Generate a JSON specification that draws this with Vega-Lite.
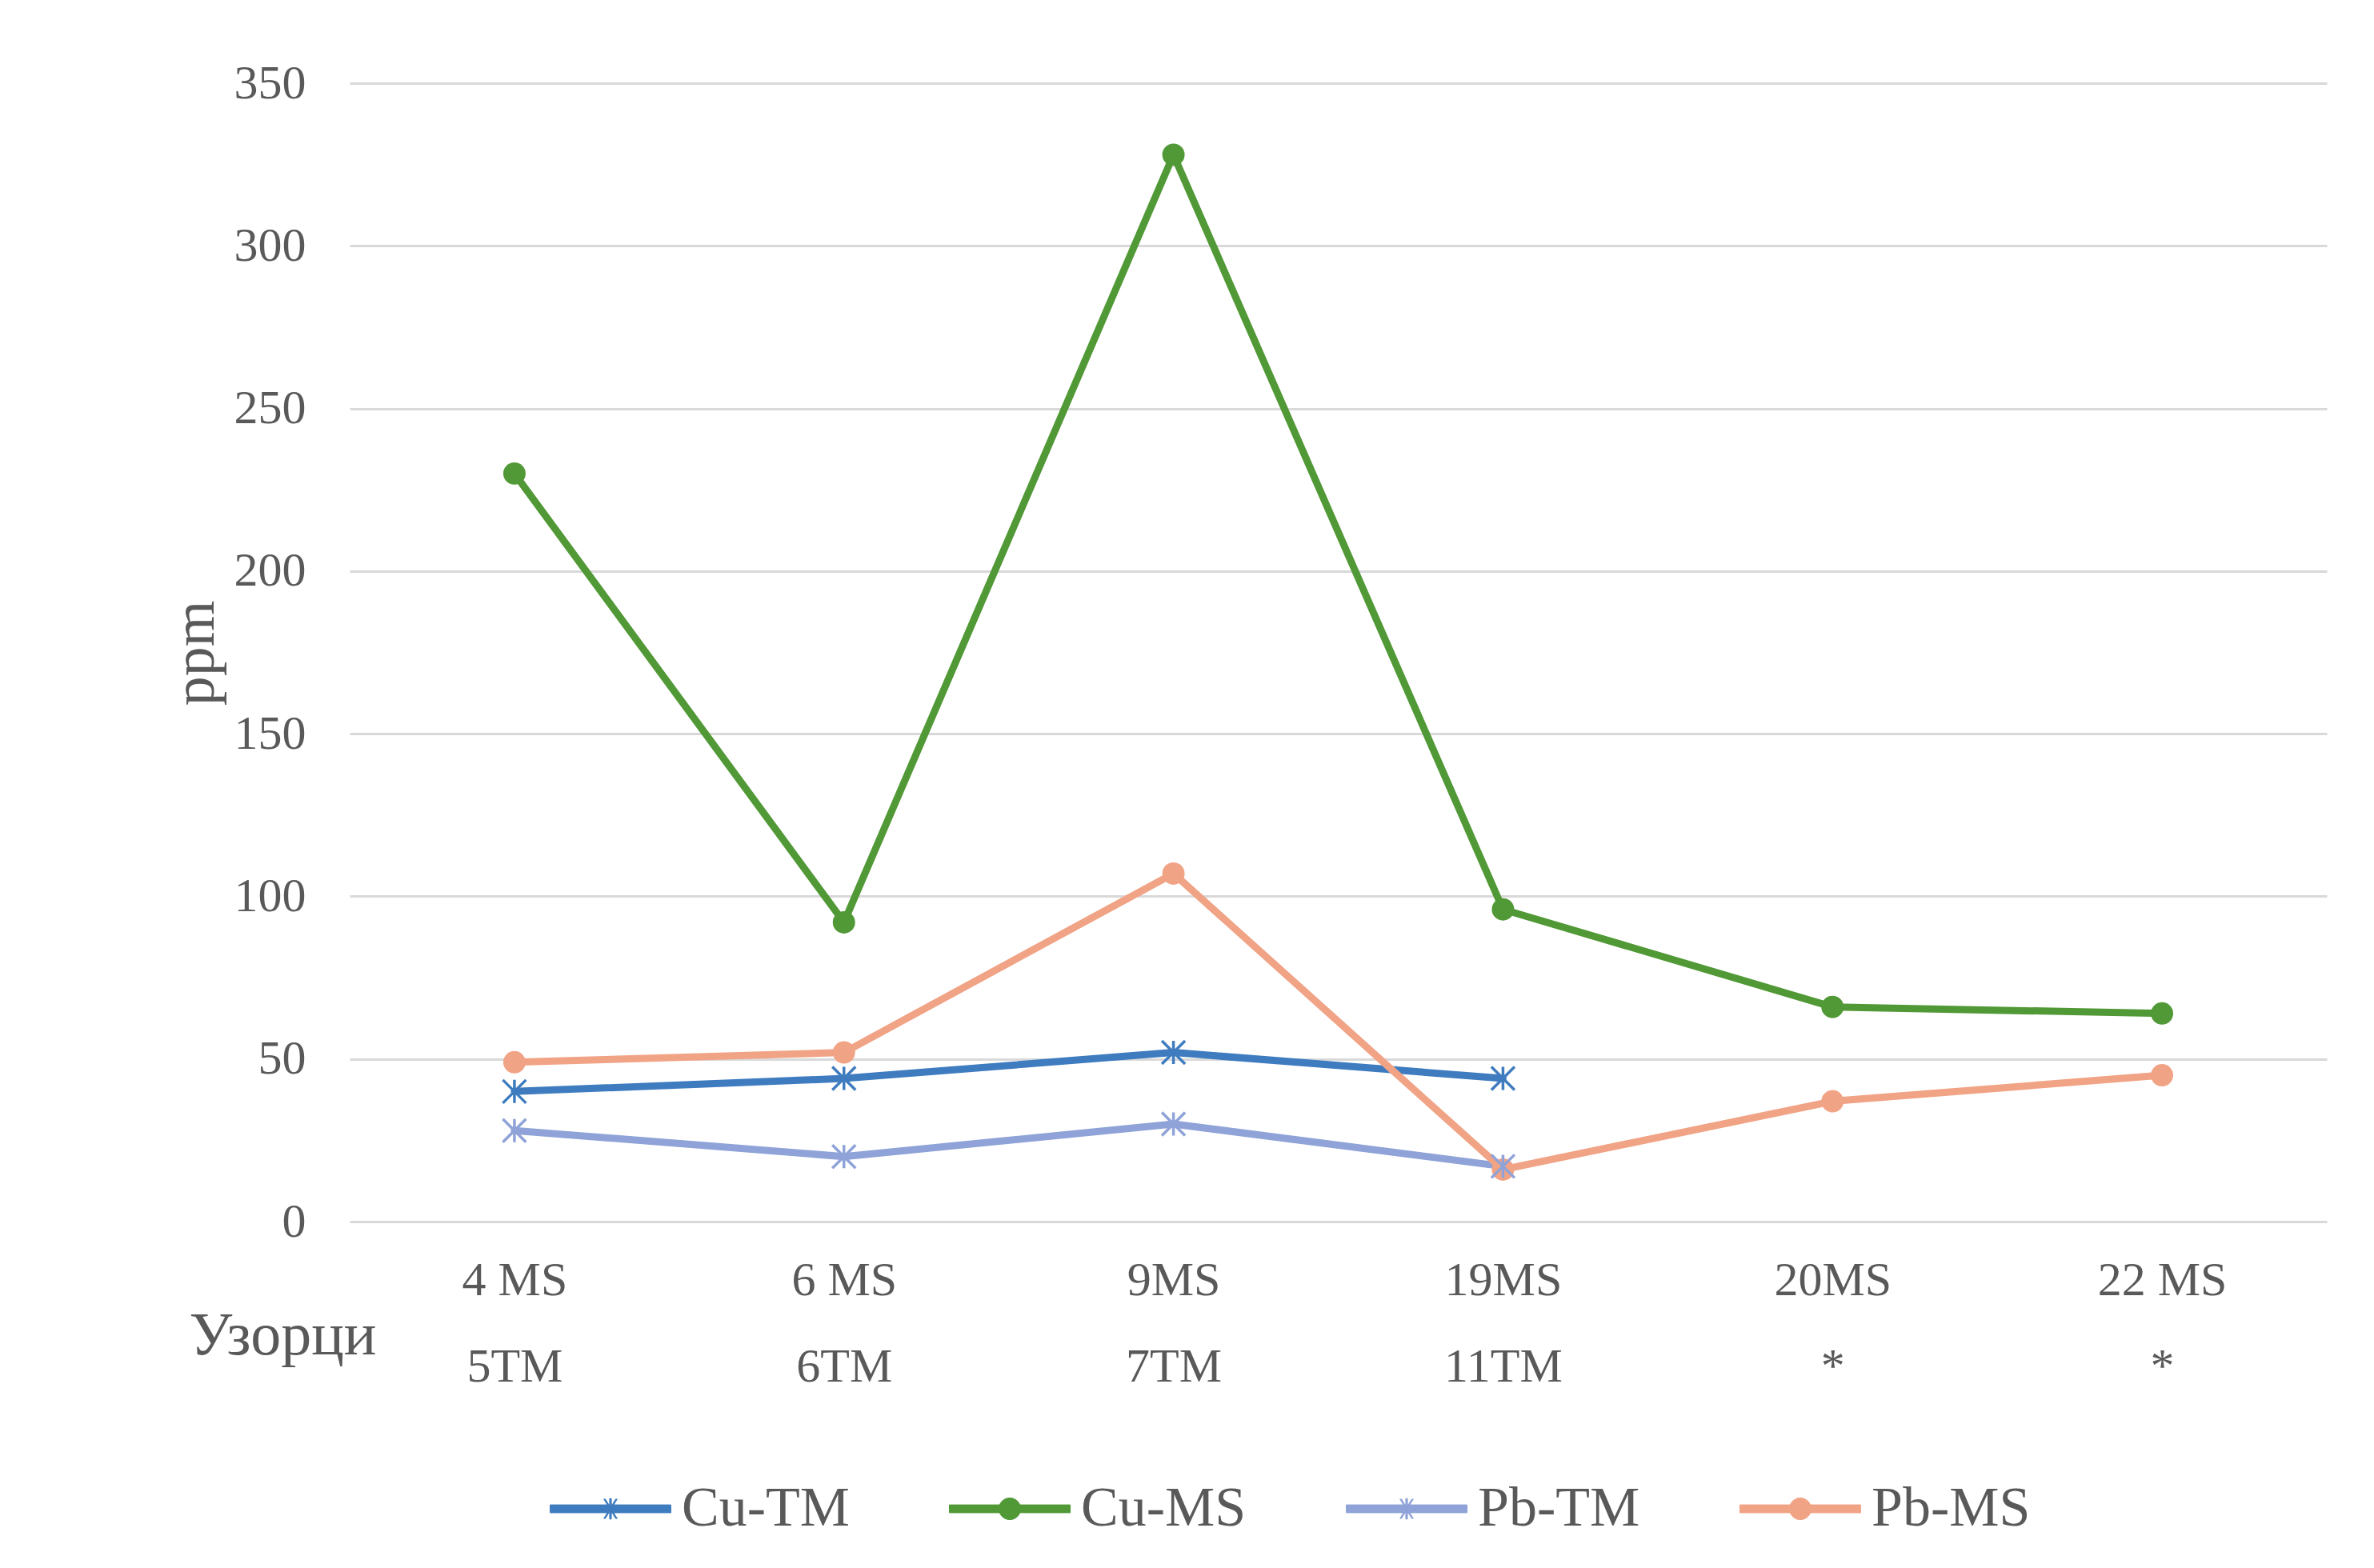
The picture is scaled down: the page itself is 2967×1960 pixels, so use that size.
{
  "$schema": "https://vega.github.io/schema/vega-lite/v6.json",
  "width": 2471,
  "height": 1423,
  "autosize": "none",
  "padding": {"left": 437, "top": 104, "right": 59, "bottom": 433},
  "background": "white",
  "config": {
    "view": {"stroke": null},
    "font": "Liberation Serif",
    "axis": {"labelFont": "Liberation Serif", "titleFont": "Liberation Serif", "labelColor": "#595959", "titleColor": "#595959", "titleFontWeight": "normal"},
    "legend": {"labelFont": "Liberation Serif", "labelColor": "#595959"}
  },
  "data": {
    "values": [
      {"series": "Cu-TM", "sample": "4 MS|5TM", "value": 40},
      {"series": "Cu-TM", "sample": "6 MS|6TM", "value": 44},
      {"series": "Cu-TM", "sample": "9MS|7TM", "value": 52},
      {"series": "Cu-TM", "sample": "19MS|11TM", "value": 44},
      {"series": "Cu-MS", "sample": "4 MS|5TM", "value": 230},
      {"series": "Cu-MS", "sample": "6 MS|6TM", "value": 92},
      {"series": "Cu-MS", "sample": "9MS|7TM", "value": 328},
      {"series": "Cu-MS", "sample": "19MS|11TM", "value": 96},
      {"series": "Cu-MS", "sample": "20MS|*", "value": 66},
      {"series": "Cu-MS", "sample": "22 MS|*", "value": 64},
      {"series": "Pb-TM", "sample": "4 MS|5TM", "value": 28},
      {"series": "Pb-TM", "sample": "6 MS|6TM", "value": 20},
      {"series": "Pb-TM", "sample": "9MS|7TM", "value": 30},
      {"series": "Pb-TM", "sample": "19MS|11TM", "value": 17},
      {"series": "Pb-MS", "sample": "4 MS|5TM", "value": 49},
      {"series": "Pb-MS", "sample": "6 MS|6TM", "value": 52},
      {"series": "Pb-MS", "sample": "9MS|7TM", "value": 107},
      {"series": "Pb-MS", "sample": "19MS|11TM", "value": 16},
      {"series": "Pb-MS", "sample": "20MS|*", "value": 37},
      {"series": "Pb-MS", "sample": "22 MS|*", "value": 45}
    ]
  },
  "encoding": {
    "x": {
      "field": "sample",
      "type": "nominal",
      "sort": ["4 MS|5TM", "6 MS|6TM", "9MS|7TM", "19MS|11TM", "20MS|*", "22 MS|*"],
      "scale": {"type": "point", "padding": 0.5},
      "axis": {
        "title": "Узорци",
        "titleFontSize": 76,
        "titleAngle": 0,
        "titleAlign": "center",
        "titleBaseline": "middle",
        "titleX": -84,
        "titleY": 142,
        "labelExpr": "split(datum.label, '|')",
        "labelFontSize": 60,
        "labelLineHeight": 108,
        "labelAngle": 0,
        "labelPadding": 44,
        "labelBaseline": "top",
        "domain": false,
        "ticks": false,
        "grid": false
      }
    },
    "y": {
      "field": "value",
      "type": "quantitative",
      "scale": {"domain": [0, 350], "nice": false},
      "axis": {
        "title": "ppm",
        "titleFontSize": 74,
        "titleAngle": -90,
        "titleAlign": "center",
        "titleBaseline": "middle",
        "titleX": -193,
        "titleY": 712,
        "values": [0, 50, 100, 150, 200, 250, 300, 350],
        "labelFontSize": 60,
        "labelPadding": 55,
        "domain": false,
        "ticks": false,
        "grid": true,
        "gridColor": "#d9d9d9",
        "gridWidth": 3
      }
    },
    "color": {
      "field": "series",
      "type": "nominal",
      "scale": {"domain": ["Cu-TM", "Cu-MS", "Pb-TM", "Pb-MS"], "range": ["#3f7cbf", "#519936", "#8fa3d8", "#f1a385"]},
      "legend": {
        "title": null,
        "orient": "none",
        "direction": "horizontal",
        "columns": 4,
        "legendX": 250,
        "legendY": 1706,
        "padding": 0,
        "labelFontSize": 70,
        "labelLimit": 1000,
        "labelOffset": 13,
        "columnPadding": 122,
        "symbolSize": 22801,
        "encode": {
          "symbols": {
            "update": {
              "shape": {"signal": "indexof(datum.value, 'TM') >= 0 ? 'M-1,-0.065H1V0.065H-1Z M-0.014,-0.17H0.014V0.17H-0.014Z M-0.11,-0.16L-0.085,-0.16L0.11,0.16L0.085,0.16Z M0.085,-0.16L0.11,-0.16L-0.085,0.16L-0.11,0.16Z' : 'M-1,-0.065H1V0.065H-1Z M-0.18,0A0.18,0.18 0 1,1 0.18,0A0.18,0.18 0 1,1 -0.18,0Z'"},
              "fill": {"scale": "color", "field": "value"},
              "stroke": {"scale": "color", "field": "value"},
              "strokeWidth": {"value": 1},
              "opacity": {"value": 1},
              "fillOpacity": {"value": 1},
              "strokeOpacity": {"value": 1}
            }
          }
        }
      }
    }
  },
  "layer": [
    {
      "mark": {"type": "line", "strokeWidth": 9, "strokeCap": "round", "strokeJoin": "round"}
    },
    {
      "transform": [{"filter": "indexof(datum.series, 'MS') >= 0"}],
      "mark": {"type": "point", "shape": "circle", "filled": true, "size": 780, "opacity": 1}
    },
    {
      "transform": [{"filter": "indexof(datum.series, 'TM') >= 0"}],
      "mark": {"type": "point", "shape": "M-1,-1L1,1M-1,1L1,-1M0,-1L0,1", "filled": false, "size": 841, "strokeWidth": 3.5, "opacity": 1}
    }
  ]
}
